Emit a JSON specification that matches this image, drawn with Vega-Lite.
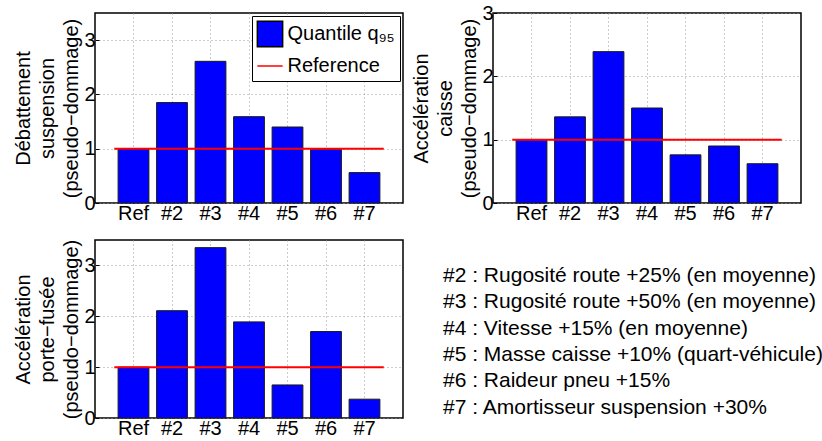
{
  "$schema": "https://vega.github.io/schema/vega-lite/v6.json",
  "background": "white",
  "padding": {"left": 13, "top": 2, "right": 0, "bottom": 0},
  "config": {
    "font": "Liberation Sans",
    "view": {"stroke": "black", "strokeWidth": 1.5},
    "axis": {
      "labelFont": "Liberation Sans", "labelFontSize": 20, "labelColor": "black",
      "titleFont": "Liberation Sans", "titleFontSize": 20, "titleFontWeight": "normal", "titleColor": "black",
      "domain": false, "gridColor": "#9a9a9a", "gridDash": [1, 3], "gridOpacity": 1, "gridWidth": 1,
      "tickColor": "black", "tickSize": -4, "tickWidth": 1
    }
  },
  "datasets": {
    "q95": [
      {"panel": "deb", "cas": "Ref", "value": 1.0},
      {"panel": "deb", "cas": "#2", "value": 1.85},
      {"panel": "deb", "cas": "#3", "value": 2.61},
      {"panel": "deb", "cas": "#4", "value": 1.59},
      {"panel": "deb", "cas": "#5", "value": 1.40},
      {"panel": "deb", "cas": "#6", "value": 0.99},
      {"panel": "deb", "cas": "#7", "value": 0.56},
      {"panel": "caisse", "cas": "Ref", "value": 1.0},
      {"panel": "caisse", "cas": "#2", "value": 1.36},
      {"panel": "caisse", "cas": "#3", "value": 2.39},
      {"panel": "caisse", "cas": "#4", "value": 1.50},
      {"panel": "caisse", "cas": "#5", "value": 0.76},
      {"panel": "caisse", "cas": "#6", "value": 0.90},
      {"panel": "caisse", "cas": "#7", "value": 0.62},
      {"panel": "pf", "cas": "Ref", "value": 1.0},
      {"panel": "pf", "cas": "#2", "value": 2.11},
      {"panel": "pf", "cas": "#3", "value": 3.35},
      {"panel": "pf", "cas": "#4", "value": 1.89},
      {"panel": "pf", "cas": "#5", "value": 0.65},
      {"panel": "pf", "cas": "#6", "value": 1.70},
      {"panel": "pf", "cas": "#7", "value": 0.37}
    ],
    "refline": [{"x0": 0.5, "x1": 7.5, "value": 1}],
    "series": [{"serie": "Quantile q₉₅"}, {"serie": "Reference"}],
    "notes": [
      {"k": 2, "pos": 0, "label": "#2 : Rugosité route +25% (en moyenne)"},
      {"k": 3, "pos": 0, "label": "#3 : Rugosité route +50% (en moyenne)"},
      {"k": 4, "pos": 0, "label": "#4 : Vitesse +15% (en moyenne)"},
      {"k": 5, "pos": 0, "label": "#5 : Masse caisse +10% (quart-véhicule)"},
      {"k": 6, "pos": 0, "label": "#6 : Raideur pneu +15%"},
      {"k": 7, "pos": 0, "label": "#7 : Amortisseur suspension +30%"}
    ]
  },
  "spacing": 14,
  "resolve": {
    "scale": {"fill": "independent", "stroke": "independent", "shape": "independent"},
    "legend": {"fill": "independent", "stroke": "independent", "shape": "independent"}
  },
  "vconcat": [
    {
      "spacing": 7,
      "resolve": {
        "scale": {"fill": "independent", "stroke": "independent", "shape": "independent"},
        "legend": {"fill": "independent", "stroke": "independent", "shape": "independent"}
      },
      "hconcat": [
        {
          "width": 308, "height": 190,
          "resolve": {"scale": {"x": "independent"}},
          "layer": [
            {
              "data": {"name": "q95"},
              "transform": [{"filter": "datum.panel === 'deb'"}],
              "mark": {"type": "bar", "color": "#0000ff", "stroke": "#1a1a1a", "strokeWidth": 1},
              "encoding": {
                "x": {"field": "cas", "type": "nominal", "sort": null,
                      "scale": {"paddingInner": 0.2, "paddingOuter": 0.6},
                      "axis": {"title": null, "labelAngle": 0, "grid": true, "labelPadding": 4}},
                "y": {"field": "value", "type": "quantitative", "scale": {"domain": [0, 3.5], "nice": false},
                      "axis": {"values": [0, 1, 2, 3], "format": "d", "title": ["Débattement", "suspension", "(pseudo−dommage)"],
                               "titleLineHeight": 24, "grid": true, "labelPadding": 4, "titlePadding": 2}}
              }
            },
            {
              "data": {"name": "refline"},
              "mark": {"type": "rule", "strokeWidth": 2, "color": "#ff0000"},
              "encoding": {
                "x": {"field": "x0", "type": "quantitative", "scale": {"domain": [0, 8], "nice": false}, "axis": null},
                "x2": {"field": "x1"},
                "y": {"field": "value", "type": "quantitative"}
              }
            },
            {
              "data": {"name": "series"},
              "transform": [{"filter": "false"}],
              "mark": {"type": "point", "filled": true, "opacity": 1},
              "encoding": {
                "fill": {"field": "serie", "type": "nominal",
                         "scale": {"domain": ["Quantile q₉₅", "Reference"], "range": ["#0000ff", "#ff0000"]},
                         "legend": {"title": null, "orient": "top-right", "offset": 3, "padding": 4.5,
                                    "strokeColor": "black", "fillColor": "white",
                                    "labelFontSize": 20, "labelFont": "Liberation Sans", "labelColor": "black",
                                    "symbolSize": 640, "rowPadding": 2, "labelOffset": 4,
                                    "symbolStrokeWidth": 1.5, "symbolOpacity": 1}},
                "stroke": {"field": "serie", "type": "nominal",
                           "scale": {"domain": ["Quantile q₉₅", "Reference"], "range": ["#000000", "#ff0000"]}},
                "shape": {"field": "serie", "type": "nominal",
                          "scale": {"domain": ["Quantile q₉₅", "Reference"], "range": ["square", "stroke"]}}
              }
            }
          ]
        },
        {
          "width": 308, "height": 190,
          "resolve": {"scale": {"x": "independent"}},
          "layer": [
            {
              "data": {"name": "q95"},
              "transform": [{"filter": "datum.panel === 'caisse'"}],
              "mark": {"type": "bar", "color": "#0000ff", "stroke": "#1a1a1a", "strokeWidth": 1},
              "encoding": {
                "x": {"field": "cas", "type": "nominal", "sort": null,
                      "scale": {"paddingInner": 0.2, "paddingOuter": 0.6},
                      "axis": {"title": null, "labelAngle": 0, "grid": true, "labelPadding": 4}},
                "y": {"field": "value", "type": "quantitative", "scale": {"domain": [0, 3], "nice": false},
                      "axis": {"values": [0, 1, 2, 3], "format": "d", "title": ["Accélération", "caisse", "(pseudo−dommage)"],
                               "titleLineHeight": 24, "grid": true, "labelPadding": 4, "titlePadding": 2}}
              }
            },
            {
              "data": {"name": "refline"},
              "mark": {"type": "rule", "strokeWidth": 2, "color": "#ff0000"},
              "encoding": {
                "x": {"field": "x0", "type": "quantitative", "scale": {"domain": [0, 8], "nice": false}, "axis": null},
                "x2": {"field": "x1"},
                "y": {"field": "value", "type": "quantitative"}
              }
            }
          ]
        }
      ]
    },
    {
      "spacing": 39,
      "hconcat": [
        {
          "width": 308, "height": 178,
          "resolve": {"scale": {"x": "independent"}},
          "layer": [
            {
              "data": {"name": "q95"},
              "transform": [{"filter": "datum.panel === 'pf'"}],
              "mark": {"type": "bar", "color": "#0000ff", "stroke": "#1a1a1a", "strokeWidth": 1},
              "encoding": {
                "x": {"field": "cas", "type": "nominal", "sort": null,
                      "scale": {"paddingInner": 0.2, "paddingOuter": 0.6},
                      "axis": {"title": null, "labelAngle": 0, "grid": true, "labelPadding": 4}},
                "y": {"field": "value", "type": "quantitative", "scale": {"domain": [0, 3.5], "nice": false},
                      "axis": {"values": [0, 1, 2, 3], "format": "d", "title": ["Accélération", "porte−fusée", "(pseudo−dommage)"],
                               "titleLineHeight": 24, "grid": true, "labelPadding": 4, "titlePadding": 2}}
              }
            },
            {
              "data": {"name": "refline"},
              "mark": {"type": "rule", "strokeWidth": 2, "color": "#ff0000"},
              "encoding": {
                "x": {"field": "x0", "type": "quantitative", "scale": {"domain": [0, 8], "nice": false}, "axis": null},
                "x2": {"field": "x1"},
                "y": {"field": "value", "type": "quantitative"}
              }
            }
          ]
        },
        {
          "width": 370, "height": 178,
          "view": {"stroke": null},
          "data": {"name": "notes"},
          "mark": {"type": "text", "align": "left", "baseline": "alphabetic", "fontSize": 21, "font": "Liberation Sans", "color": "black"},
          "encoding": {
            "x": {"field": "pos", "type": "quantitative", "scale": {"domain": [0, 1]}, "axis": null},
            "y": {"field": "k", "type": "quantitative", "scale": {"domain": [0.405, 7.164], "nice": false, "zero": false, "reverse": true}, "axis": null},
            "text": {"field": "label"}
          }
        }
      ]
    }
  ]
}
